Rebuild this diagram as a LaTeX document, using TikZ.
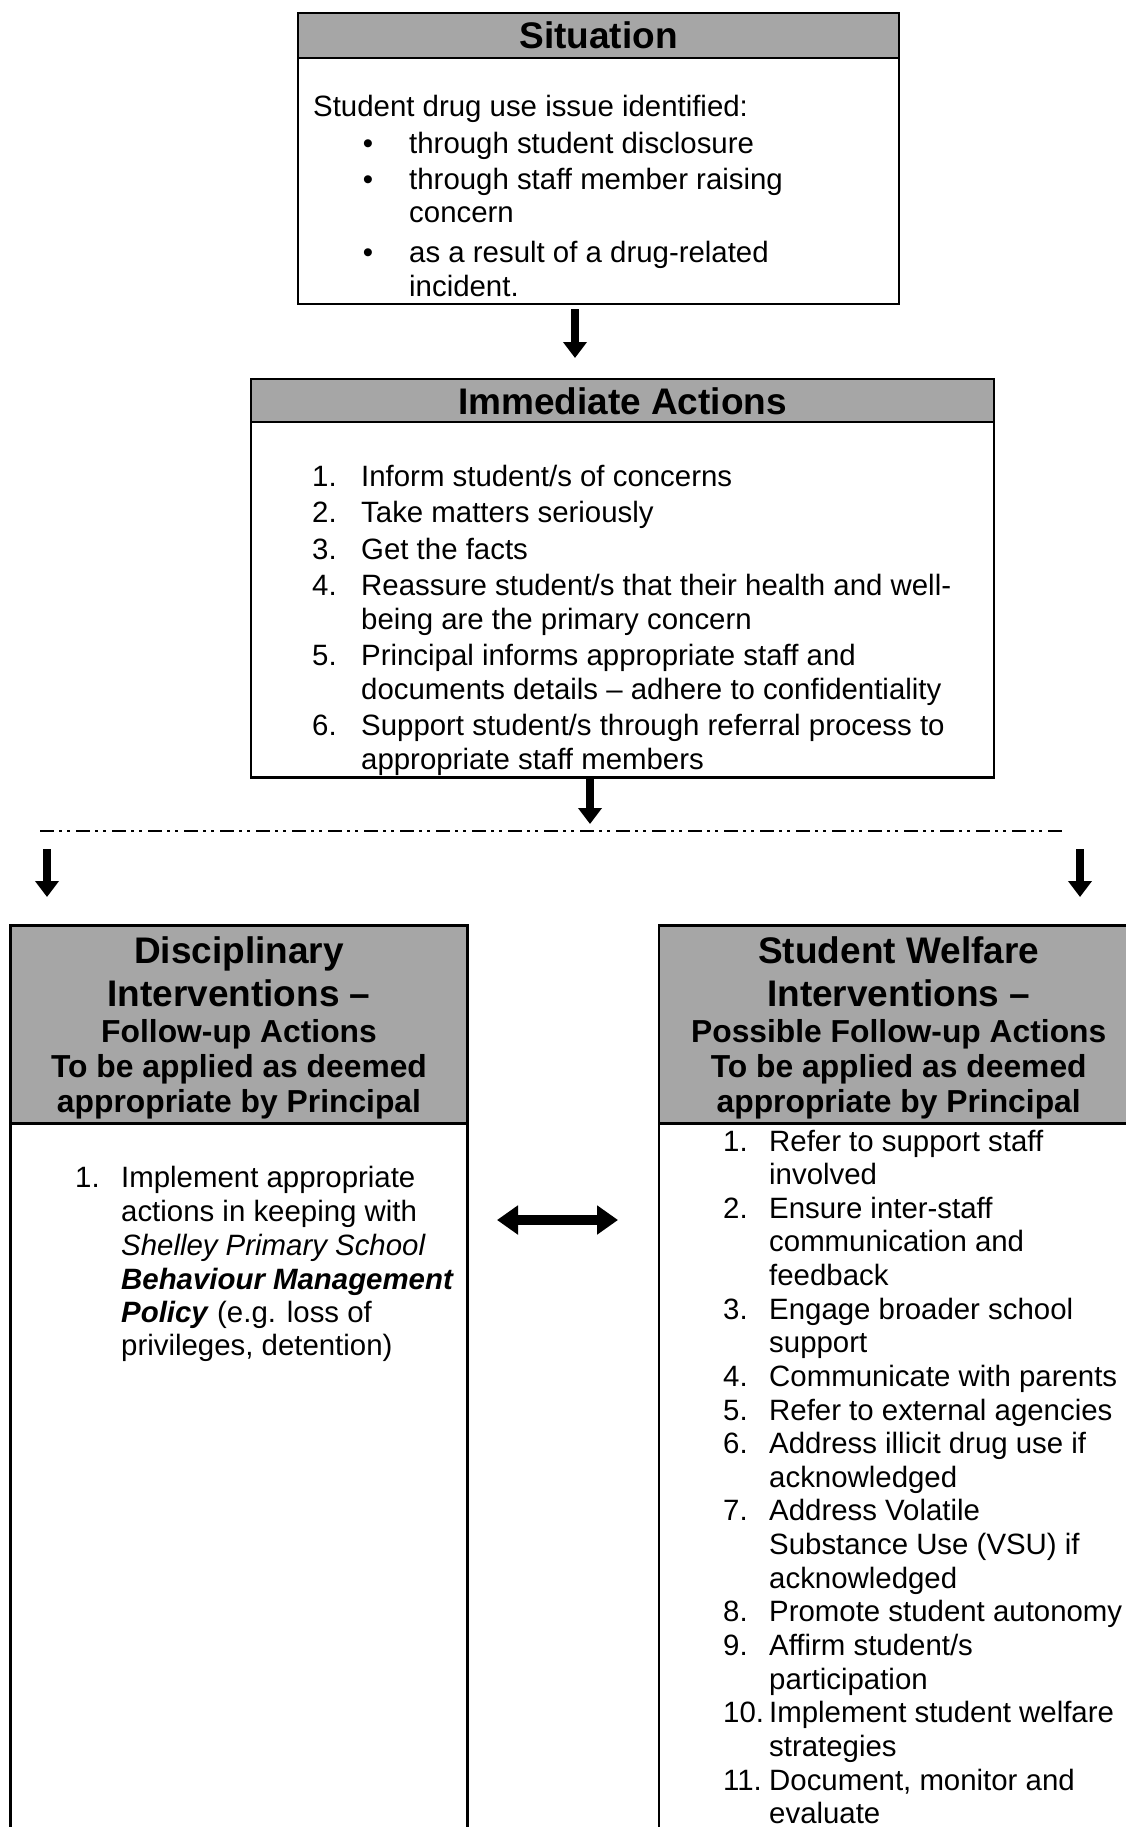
\documentclass[tikz,border=0pt]{standalone}
\usepackage{fontspec}
\setmainfont{Liberation Sans}
\usetikzlibrary{arrows.meta}
\definecolor{hdrgray}{RGB}{166,166,166}
\tikzset{
  frame/.style={draw=black, line width=2.2pt, inner sep=0pt, outer sep=0pt, anchor=north west},
  hdr/.style={frame, fill=hdrgray},
  body/.style={anchor=base west, inner sep=0pt, font=\fontsize{29.4}{34}\selectfont},
  bul/.style={anchor=base, inner sep=0pt, font=\fontsize{29.4}{34}\selectfont},
  ttl/.style={anchor=base, inner sep=0pt, font=\fontsize{37}{44}\selectfont\bfseries},
  sub/.style={anchor=base, inner sep=0pt, font=\fontsize{31.8}{38}\selectfont\bfseries},
  blk/.style={line width=8pt, -{Triangle[width=23pt,length=16pt]}},
  dbl/.style={line width=10pt, {Triangle[width=28pt,length=21pt]}-{Triangle[width=28pt,length=21pt]}},
  dashline/.style={line width=2.5pt, dash pattern=on 14pt off 5pt on 3pt off 5pt on 3pt off 6pt}
}
\begin{document}
\begin{tikzpicture}[x=1pt,y=-1pt]
\useasboundingbox (0,0) rectangle (1126,1827);
\clip (0,0) rectangle (1126,1827);
\fill[white] (0,0) rectangle (1126,1827);

% ---------- Situation ----------
\node[frame, minimum width=601pt, minimum height=291pt] (sit) at (298,13) {};
\node[hdr, minimum width=601pt, minimum height=45pt] (sith) at (298,13) {};
\node[ttl] (sitt) at (598.5,49) {Situation};
\node[body] (s0) at (313,117) {Student drug use issue identified:};
\node[bul] (s1b) at (368,154) {•};
\node[body] (s1) at (409,154) {through student disclosure};
\node[bul] (s2b) at (368,190) {•};
\node[body] (s2) at (409,190) {through staff member raising};
\node[body] (s2c) at (409,223) {concern};
\node[bul] (s3b) at (368,262) {•};
\node[body] (s3) at (409,262) {as a result of a drug-related};
\node[body] (s3c) at (409,296) {incident.};

% ---------- Immediate Actions ----------
\node[frame, minimum width=743pt, minimum height=398.5pt] (imm) at (251,379) {};
\node[hdr, minimum width=743pt, minimum height=43pt] (immh) at (251,379) {};
\node[ttl] (immt) at (622.5,414) {Immediate Actions};
\node[body] (i1n) at (312,486) {1.};
\node[body] (i1) at (361,486) {Inform student/s of concerns};
\node[body] (i2n) at (312,522) {2.};
\node[body] (i2) at (361,522) {Take matters seriously};
\node[body] (i3n) at (312,559) {3.};
\node[body] (i3) at (361,559) {Get the facts};
\node[body] (i4n) at (312,595) {4.};
\node[body] (i4) at (361,595) {Reassure student/s that their health and well-};
\node[body] (i4c) at (361,629) {being are the primary concern};
\node[body] (i5n) at (312,665) {5.};
\node[body] (i5) at (361,665) {Principal informs appropriate staff and};
\node[body] (i5c) at (361,699) {documents details -- adhere to confidentiality};
\node[body] (i6n) at (312,735) {6.};
\node[body] (i6) at (361,735) {Support student/s through referral process to};
\node[body] (i6c) at (361,769) {appropriate staff members};

% ---------- arrows and split line ----------
\coordinate (a1s) at (575,309);
\coordinate (a1e) at (575,358);
\draw[blk] (a1s) -- (a1e);
\coordinate (a2s) at (590,777);
\coordinate (a2e) at (590,824);
\draw[blk] (a2s) -- (a2e);
\coordinate (dl) at (40,831);
\coordinate (dr) at (1066,831);
\draw[dashline] (dl) -- (dr);
\coordinate (a3s) at (47,849);
\coordinate (a3e) at (47,897);
\draw[blk] (a3s) -- (a3e);
\coordinate (a4s) at (1080,849);
\coordinate (a4e) at (1080,897);
\draw[blk] (a4s) -- (a4e);

% ---------- Disciplinary ----------
\node[frame, minimum width=457pt, minimum height=1000pt] (dis) at (10.5,925.5) {};
\node[hdr, minimum width=457pt, minimum height=198pt] (dish) at (10.5,925.5) {};
\node[ttl] (dt1) at (239,963) {Disciplinary};
\node[ttl] (dt2) at (239,1006) {Interventions --};
\node[sub] (dt3) at (239,1042) {Follow-up Actions};
\node[sub] (dt4) at (239,1077) {To be applied as deemed};
\node[sub] (dt5) at (239,1112) {appropriate by Principal};
\node[body] (d1n) at (75,1187) {1.};
\node[body] (d1) at (121,1187) {Implement appropriate};
\node[body] (d2) at (121,1221) {actions in keeping with};
\node[body] (d3) at (121,1255) {\itshape Shelley Primary School};
\node[body] (d4) at (121,1289) {\bfseries\itshape Behaviour Management};
\node[body] (d5) at (121,1322) {\textbf{\textit{Policy}} (e.g. loss of};
\node[body] (d6) at (121,1355) {privileges, detention)};

% ---------- Student Welfare ----------
\node[frame, minimum width=481pt, minimum height=1000pt] (wel) at (658.6,925.5) {};
\node[hdr, minimum width=481pt, minimum height=198pt] (welh) at (658.6,925.5) {};
\node[ttl] (wt1) at (898.7,963) {Student Welfare};
\node[ttl] (wt2) at (898.7,1006) {Interventions --};
\node[sub] (wt3) at (898.7,1042) {Possible Follow-up Actions};
\node[sub] (wt4) at (898.7,1077) {To be applied as deemed};
\node[sub] (wt5) at (898.7,1112) {appropriate by Principal};

\node[body] (w1n) at (723,1151) {1.};
\node[body] (w1) at (769,1151) {Refer to support staff};
\node[body] (w1c) at (769,1184.6) {involved};
\node[body] (w2n) at (723,1218.3) {2.};
\node[body] (w2) at (769,1218.3) {Ensure inter-staff};
\node[body] (w2c) at (769,1251.9) {communication and};
\node[body] (w2d) at (769,1285.5) {feedback};
\node[body] (w3n) at (723,1319.2) {3.};
\node[body] (w3) at (769,1319.2) {Engage broader school};
\node[body] (w3c) at (769,1352.8) {support};
\node[body] (w4n) at (723,1386.4) {4.};
\node[body] (w4) at (769,1386.4) {Communicate with parents};
\node[body] (w5n) at (723,1420.0) {5.};
\node[body] (w5) at (769,1420.0) {Refer to external agencies};
\node[body] (w6n) at (723,1453.7) {6.};
\node[body] (w6) at (769,1453.7) {Address illicit drug use if};
\node[body] (w6c) at (769,1487.3) {acknowledged};
\node[body] (w7n) at (723,1520.9) {7.};
\node[body] (w7) at (769,1520.9) {Address Volatile};
\node[body] (w7c) at (769,1554.6) {Substance Use (VSU) if};
\node[body] (w7d) at (769,1588.2) {acknowledged};
\node[body] (w8n) at (723,1621.8) {8.};
\node[body] (w8) at (769,1621.8) {Promote student autonomy};
\node[body] (w9n) at (723,1655.5) {9.};
\node[body] (w9) at (769,1655.5) {Affirm student/s};
\node[body] (w9c) at (769,1689.1) {participation};
\node[body] (w10n) at (723,1722.7) {10.};
\node[body] (w10) at (769,1722.7) {Implement student welfare};
\node[body] (w10c) at (769,1756.3) {strategies};
\node[body] (w11n) at (723,1790.0) {11.};
\node[body] (w11) at (769,1790.0) {Document, monitor and};
\node[body] (w11c) at (769,1823.6) {evaluate};

% ---------- two-way arrow ----------
\coordinate (dbl) at (497,1220);
\coordinate (dbr) at (618,1220);
\draw[dbl] (dbl) -- (dbr);
\end{tikzpicture}
\end{document}
